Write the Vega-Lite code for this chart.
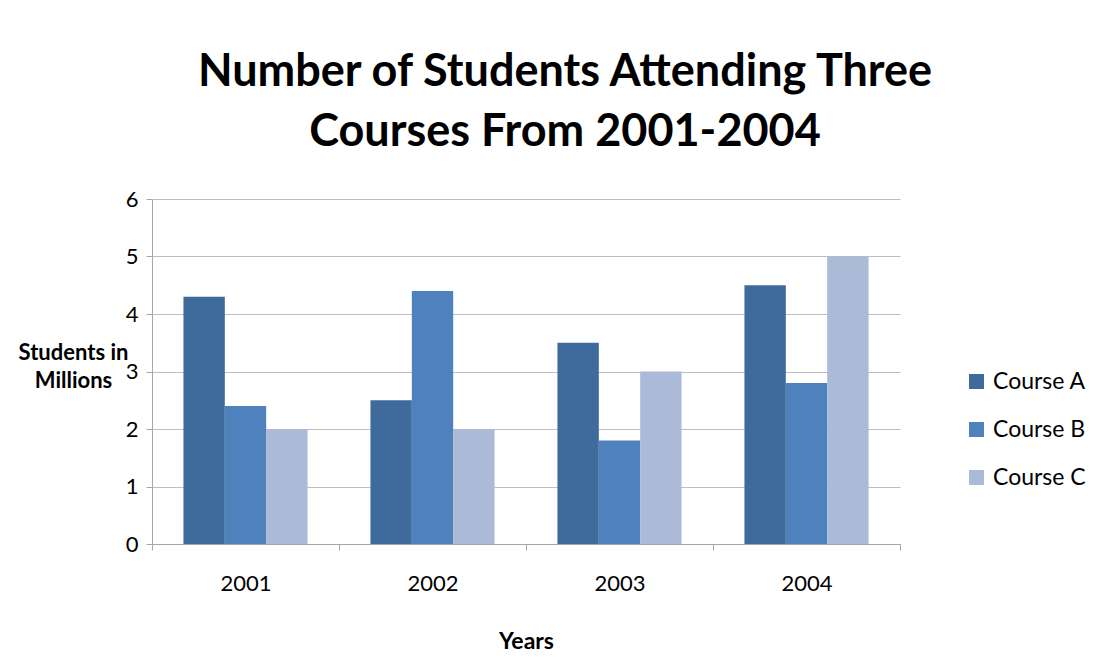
{
  "$schema": "https://vega.github.io/schema/vega-lite/v6.json",
  "width": 748,
  "height": 345,
  "autosize": {"type": "none"},
  "padding": {"left": 152, "top": 199, "right": 204, "bottom": 122},
  "background": "white",
  "title": {
    "text": ["Number of Students Attending Three", "Courses From 2001-2004"],
    "anchor": "middle",
    "dx": 39,
    "offset": 33,
    "font": "Lato",
    "fontSize": 45,
    "fontWeight": "bold",
    "color": "black",
    "lineHeight": 60
  },
  "data": {
    "values": [
      {"year": "2001", "course": "Course A", "value": 4.3},
      {"year": "2001", "course": "Course B", "value": 2.4},
      {"year": "2001", "course": "Course C", "value": 2.0},
      {"year": "2002", "course": "Course A", "value": 2.5},
      {"year": "2002", "course": "Course B", "value": 4.4},
      {"year": "2002", "course": "Course C", "value": 2.0},
      {"year": "2003", "course": "Course A", "value": 3.5},
      {"year": "2003", "course": "Course B", "value": 1.8},
      {"year": "2003", "course": "Course C", "value": 3.0},
      {"year": "2004", "course": "Course A", "value": 4.5},
      {"year": "2004", "course": "Course B", "value": 2.8},
      {"year": "2004", "course": "Course C", "value": 5.0}
    ]
  },
  "mark": {"type": "bar"},
  "encoding": {
    "x": {
      "field": "year",
      "type": "nominal",
      "scale": {"paddingInner": 0, "paddingOuter": 0},
      "axis": {
        "title": "Years",
        "titleFont": "Lato",
        "titleFontSize": 23,
        "titleFontWeight": "bold",
        "titleColor": "black",
        "titlePadding": 36,
        "labelAngle": 0,
        "labelFont": "Lato",
        "labelFontSize": 22,
        "labelColor": "black",
        "labelPadding": 23,
        "tickBand": "extent",
        "tickSize": 6,
        "tickColor": "#a6a6a6",
        "domainColor": "#a6a6a6",
        "grid": false
      }
    },
    "xOffset": {"field": "course", "type": "nominal", "scale": {"paddingInner": 0, "paddingOuter": 0.76}},
    "y": {
      "field": "value",
      "type": "quantitative",
      "scale": {"domain": [0, 6], "nice": false},
      "axis": {
        "values": [0, 1, 2, 3, 4, 5, 6],
        "title": ["Students in", "Millions"],
        "titleAngle": 0,
        "titleAlign": "center",
        "titleBaseline": "alphabetic",
        "titleX": -79,
        "titleY": 160,
        "titleLineHeight": 28,
        "titleFont": "Lato",
        "titleFontSize": 22,
        "titleFontWeight": "bold",
        "titleColor": "black",
        "labelFont": "Lato",
        "labelFontSize": 22,
        "labelColor": "black",
        "labelPadding": 8,
        "tickSize": 6,
        "tickColor": "#a6a6a6",
        "domainColor": "#a6a6a6",
        "gridColor": "#bfbfbf",
        "gridWidth": 1
      }
    },
    "color": {
      "field": "course",
      "type": "nominal",
      "scale": {"domain": ["Course A", "Course B", "Course C"], "range": ["#3f6a9c", "#4f81bd", "#aabad7"]},
      "legend": {
        "title": null,
        "orient": "none",
        "legendX": 813,
        "legendY": 171,
        "padding": 0,
        "symbolType": "square",
        "symbolSize": 225,
        "symbolStrokeWidth": 0,
        "labelFont": "Lato",
        "labelFontSize": 23,
        "labelColor": "black",
        "labelOffset": 5,
        "rowPadding": 24
      }
    }
  },
  "config": {"view": {"stroke": null}}
}
